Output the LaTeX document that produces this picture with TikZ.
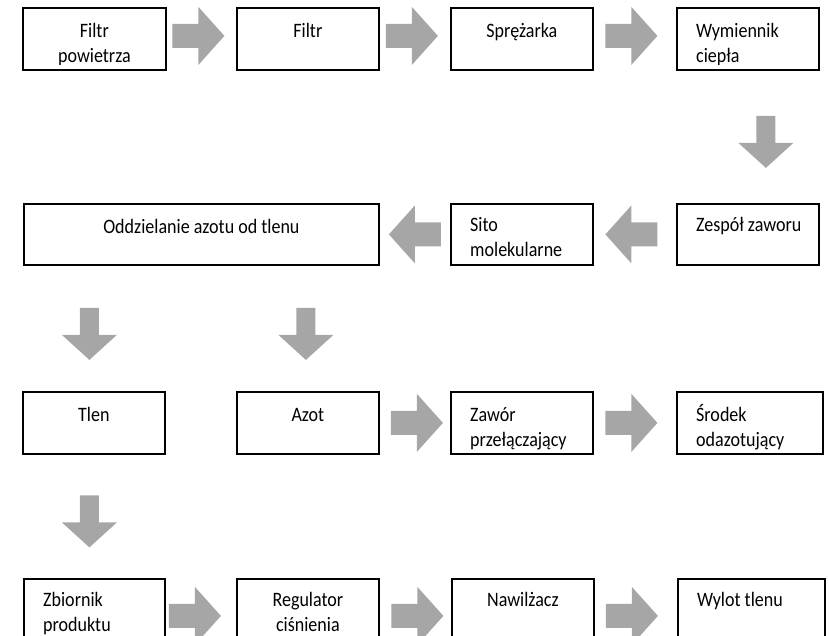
\documentclass[tikz,border=0pt]{standalone}
\usepackage{fontspec}
\setmainfont{Carlito}[FakeStretch=0.88]
\usetikzlibrary{calc}
\definecolor{arrowgray}{HTML}{A6A6A6}
\tikzset{
  box/.style={draw=black, line width=1.8pt, inner sep=0pt, anchor=north west},
  lblc/.style={anchor=north, inner sep=0pt, align=center, font=\fontsize{20.5}{25}\selectfont},
  lbll/.style={anchor=north west, inner sep=0pt, align=left, font=\fontsize{20.5}{25}\selectfont},
  blockarrow/.style={fill=arrowgray, draw=none},
}
% right block arrow between #1 (left) and #2 (right), shifted by (#3,#4)
\newcommand\rarr[4]{\fill[blockarrow] ($(#1.east)!0.5!(#2.west)+(#3,#4)$) ++(-26,-12) -- ++(26,0) -- ++(0,-17) -- ++(26,29) -- ++(-26,29) -- ++(0,-17) -- ++(-26,0) -- cycle;}
% left block arrow from #1 (right) to #2 (left)
\newcommand\larr[4]{\fill[blockarrow] ($(#2.east)!0.5!(#1.west)+(#3,#4)$) ++(26,-12) -- ++(-26,0) -- ++(0,-17) -- ++(-26,29) -- ++(26,29) -- ++(0,-17) -- ++(26,0) -- cycle;}
% down block arrow from #1 (above) to #2 (below), centred on #2 horizontally
\newcommand\darr[4]{\fill[blockarrow] ($(#1.south -| #2.north)!0.5!(#2.north)+(#3,#4)$) ++(-9.5,-26) -- ++(19,0) -- ++(0,27) -- ++(18,0) -- ++(-27.5,25) -- ++(-27.5,-25) -- ++(18,0) -- cycle;}
\begin{document}
\begin{tikzpicture}[x=1pt,y=-1pt]
\useasboundingbox (0,0) rectangle (829,636);
\clip (0,0) rectangle (829,636);
% row 1
\node[box, minimum width=143pt, minimum height=62pt] (b1) at (22,7) {};
\node[box, minimum width=142pt, minimum height=62pt] (b2) at (236,7) {};
\node[box, minimum width=142pt, minimum height=62pt] (b3) at (450,7) {};
\node[box, minimum width=142pt, minimum height=62pt] (b4) at (676,7) {};
% row 2
\node[box, minimum width=355pt, minimum height=61pt] (b5) at (23,203) {};
\node[box, minimum width=142pt, minimum height=61pt] (b6) at (450,203) {};
\node[box, minimum width=142pt, minimum height=61pt] (b7) at (676,203) {};
% row 3
\node[box, minimum width=142pt, minimum height=62pt] (b8) at (22,391) {};
\node[box, minimum width=142pt, minimum height=62pt] (b9) at (236,391) {};
\node[box, minimum width=142pt, minimum height=62pt] (b10) at (450,391) {};
\node[box, minimum width=146pt, minimum height=62pt] (b11) at (676,391) {};
% row 4
\node[box, minimum width=141pt, minimum height=70pt] (b12) at (23,578) {};
\node[box, minimum width=142pt, minimum height=70pt] (b13) at (236,578) {};
\node[box, minimum width=142pt, minimum height=70pt] (b14) at (451,578) {};
\node[box, minimum width=147pt, minimum height=70pt] (b15) at (677,578) {};
% labels, row 1 (descenders of the last line cut, as in the reference)
\begin{scope}
\clip (0,0) rectangle (829,65);
\node[lblc] (t1) at ($(b1.north)+(0,12.5)$) {\strut Filtr\\powietrza};
\node[lblc] (t2) at ($(b2.north)+(0,12.5)$) {\strut Filtr};
\node[lblc] (t3) at ($(b3.north)+(0,12.5)$) {\strut Sprężarka};
\node[lbll] (t4) at ($(b4.north west)+(20,12.5)$) {\strut Wymiennik\\ciepła};
\end{scope}
\node[lblc] (t5) at ($(b5.north)+(0,12.5)$) {\strut Oddzielanie azotu od tlenu};
\node[lbll] (t6) at ($(b6.north west)+(20,11)$) {\strut Sito\\molekularne};
\node[lbll] (t7) at ($(b7.north west)+(20,11)$) {\strut Zespół zaworu};
\node[lblc] (t8) at ($(b8.north)+(0,12.5)$) {\strut Tlen};
\node[lblc] (t9) at ($(b9.north)+(0,12.5)$) {\strut Azot};
\node[lbll] (t10) at ($(b10.north west)+(20,12.5)$) {\strut Zawór\\przełączający};
\node[lbll] (t11) at ($(b11.north west)+(20,12.5)$) {\strut Środek\\odazotujący};
\node[lbll] (t12) at ($(b12.north west)+(20,11)$) {\strut Zbiornik\\produktu};
\node[lblc] (t13) at ($(b13.north)+(0,11)$) {\strut Regulator\\ciśnienia};
\node[lblc] (t14) at ($(b14.north)+(0,11)$) {\strut Nawilżacz};
\node[lbll] (t15) at ($(b15.north west)+(20,11)$) {\strut Wylot tlenu};
% arrows
\rarr{b1}{b2}{-3}{-3}
\rarr{b2}{b3}{-3}{-3}
\rarr{b3}{b4}{-3.5}{-3}
\darr{b4}{b7}{18}{5}
\larr{b7}{b6}{-3.5}{0}
\larr{b6}{b5}{0}{0}
\darr{b5}{b8}{-4.5}{5.5}
\darr{b5}{b9}{-2}{5.5}
\rarr{b9}{b10}{2}{0}
\rarr{b10}{b11}{-3.5}{0}
\darr{b8}{b12}{-5}{5}
\rarr{b12}{b13}{-6}{2}
\rarr{b13}{b14}{2}{2}
\rarr{b14}{b15}{-4}{2}
\end{tikzpicture}
\end{document}
